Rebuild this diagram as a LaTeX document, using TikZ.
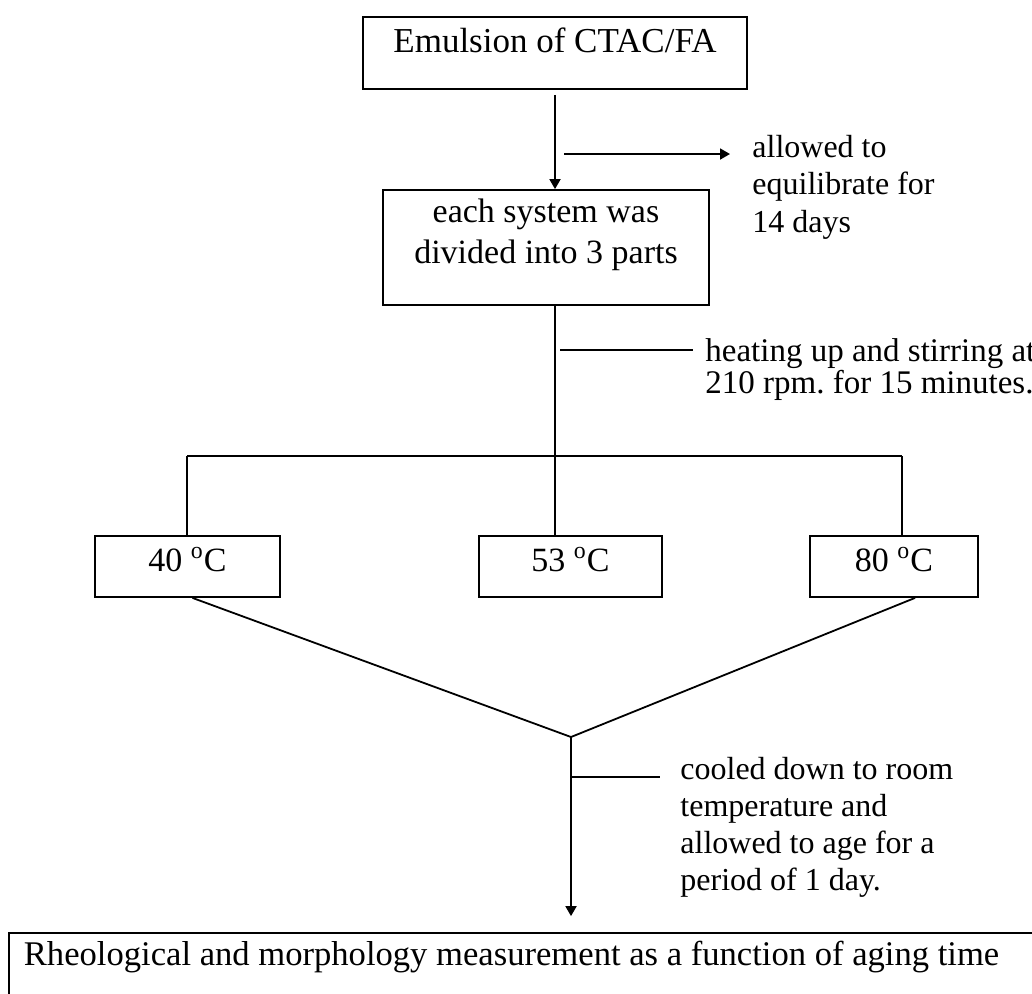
\documentclass[tikz,border=0pt]{standalone}
\usepackage{fontspec}
\setmainfont{Liberation Serif}
\usetikzlibrary{arrows.meta}
\frenchspacing

\begin{document}
\begin{tikzpicture}[x=0.5pt,y=-0.5pt]
    % Styles
    \tikzstyle{fleche}=[-{Triangle[length=5pt,width=5.5pt]},line width=0.9pt]
    \tikzstyle{trait}=[line width=0.9pt]
    \tikzstyle{boite}=[draw,line width=0.9pt,rectangle,inner sep=0pt,align=center,font=\fontsize{17}{20.5}\selectfont]
    \tikzstyle{note}=[inner sep=0pt,align=left,anchor=base west]
    % Cadre
    \useasboundingbox (0,0) rectangle (1032,993);
    \clip (0,0) rectangle (1032,993);
    % Noeuds (ancre base = ligne de base de la derniere ligne)
    \node[boite,anchor=base,minimum width=192pt,text height=17.5pt,text depth=18.5pt,font=\fontsize{17.5}{20.5}\selectfont] (E) at (555,52) {Emulsion of CTAC/FA};
    \node[boite,anchor=base,minimum width=163pt,text height=36.5pt,text depth=21pt] (B2) at (546,263) {each system was\\divided into 3 parts};
    \node[boite,anchor=base,minimum width=92.5pt,text height=17.5pt,text depth=13pt] (T40) at (187.5,571) {40 \textsuperscript{o}C};
    \node[boite,anchor=base,minimum width=91.5pt,text height=17.5pt,text depth=13pt] (T53) at (570.5,571) {53 \textsuperscript{o}C};
    \node[boite,anchor=base,minimum width=84pt,text height=17.5pt,text depth=13pt] (T80) at (894,571) {80 \textsuperscript{o}C};
    \node[boite,anchor=base west,inner xsep=7.5pt,text width=510pt,align=flush left,text height=16pt,text depth=30pt,font=\fontsize{17.3}{20.5}\selectfont] (F) at (8,965) {Rheological and morphology measurement as a function of aging time};
    % Notes
    \node[note,font=\fontsize{16}{18.75}\selectfont] (nA) at (752,232) {allowed to\\equilibrate for\\14 days};
    \node[note,font=\fontsize{16.5}{16}\selectfont] (nB) at (705,393) {heating up and stirring at\\210 rpm. for 15 minutes.};
    \node[note,font=\fontsize{16}{18.5}\selectfont] (nC) at (680,890) {cooled down to room\\temperature and\\allowed to age for a\\period of 1 day.};
    % Points
    \coordinate (fA) at (564,154);
    \coordinate (fB) at (730,154);
    \coordinate (tA) at (560,350);
    \coordinate (tB) at (693,350);
    \coordinate (barL) at (187,456);
    \coordinate (barM) at (555,456);
    \coordinate (barR) at (902,456);
    \coordinate (J) at (571,737);
    \coordinate (tC) at (571,777);
    \coordinate (tD) at (660,777);
    % Arcs
    \draw[fleche] ([yshift=-2.5pt]E.south) -- (E.south |- B2.north);
    \draw[fleche] (fA) -- (fB);
    \draw[trait] (E.south |- B2.south) -- (barM);
    \draw[trait] (tA) -- (tB);
    \draw[trait] (barL) -- (barR);
    \draw[trait] (barL) -- (barL |- T40.north);
    \draw[trait] (barM) -- (barM |- T53.north);
    \draw[trait] (barR) -- (barR |- T80.north);
    \draw[trait] ([xshift=2.5pt]T40.south) -- (J) -- ([xshift=10.5pt]T80.south);
    \draw[fleche,shorten >=8pt] (J) -- (J |- F.north);
    \draw[trait] (tC) -- (tD);
\end{tikzpicture}
\end{document}
